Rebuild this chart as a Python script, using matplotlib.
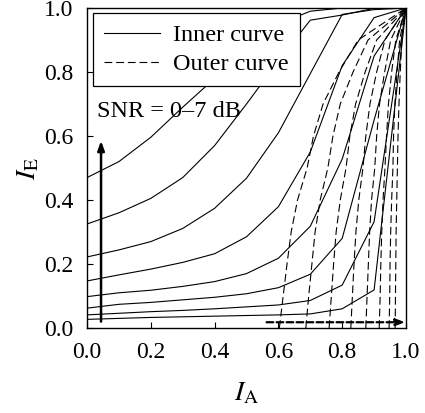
import matplotlib
matplotlib.use("Agg")
import matplotlib.pyplot as plt

plt.rcParams['font.family'] = ['Liberation Serif', 'DejaVu Serif']
plt.rcParams['mathtext.fontset'] = 'stix'

# Inner curves (SNR = 0..7 dB), I_E vs I_A sampled at I_A = 0, 0.1, ..., 1.0
ia_grid = [0.0, 0.1, 0.2, 0.3, 0.4, 0.5, 0.6, 0.7, 0.8, 0.9, 1.0]
inner_7 = [0.470, 0.520, 0.596, 0.690, 0.780, 0.870, 0.950, 0.990, 1.000, 1.000, 1.000]
inner_6 = [0.325, 0.360, 0.405, 0.470, 0.570, 0.700, 0.835, 0.962, 0.978, 0.999, 1.000]
inner_5 = [0.222, 0.244, 0.270, 0.311, 0.374, 0.468, 0.610, 0.795, 0.980, 0.995, 1.000]
inner_4 = [0.147, 0.166, 0.184, 0.205, 0.232, 0.285, 0.379, 0.550, 0.820, 0.970, 1.000]
inner_3 = [0.098, 0.110, 0.118, 0.130, 0.145, 0.170, 0.218, 0.318, 0.528, 0.850, 1.000]
inner_2 = [0.062, 0.074, 0.080, 0.088, 0.096, 0.107, 0.126, 0.168, 0.280, 0.650, 1.000]
inner_1 = [0.041, 0.046, 0.051, 0.055, 0.060, 0.066, 0.072, 0.086, 0.134, 0.332, 1.000]
inner_0 = [0.027, 0.030, 0.033, 0.035, 0.037, 0.039, 0.041, 0.044, 0.060, 0.119, 1.000]
inner_curves = [inner_7, inner_6, inner_5, inner_4, inner_3, inner_2, inner_1, inner_0]

# Outer curves: I_A (x) at I_E = 0, 0.1, ..., 1.0
ie_grid = [0.0, 0.1, 0.2, 0.3, 0.4, 0.5, 0.6, 0.7, 0.8, 0.9, 1.0]
outer_0 = [0.603, 0.615, 0.627, 0.640, 0.660, 0.690, 0.710, 0.740, 0.790, 0.850, 1.000]
outer_1 = [0.686, 0.695, 0.705, 0.715, 0.731, 0.755, 0.771, 0.794, 0.834, 0.881, 1.000]
outer_2 = [0.759, 0.766, 0.773, 0.781, 0.794, 0.812, 0.824, 0.842, 0.872, 0.908, 1.000]
outer_3 = [0.827, 0.832, 0.837, 0.843, 0.852, 0.865, 0.874, 0.887, 0.908, 0.934, 1.000]
outer_4 = [0.874, 0.878, 0.882, 0.886, 0.892, 0.902, 0.908, 0.917, 0.933, 0.952, 1.000]
outer_5 = [0.916, 0.919, 0.921, 0.924, 0.928, 0.934, 0.939, 0.945, 0.955, 0.968, 1.000]
outer_6 = [0.947, 0.949, 0.950, 0.952, 0.955, 0.959, 0.961, 0.965, 0.972, 0.980, 1.000]
outer_7 = [0.966, 0.967, 0.968, 0.969, 0.971, 0.973, 0.975, 0.978, 0.982, 0.987, 1.000]
outer_curves = [outer_0, outer_1, outer_2, outer_3, outer_4, outer_5, outer_6, outer_7]

ticks = [0.0, 0.2, 0.4, 0.6, 0.8, 1.0]
tick_labels = ['0.0', '0.2', '0.4', '0.6', '0.8', '1.0']

fig = plt.figure(figsize=(4.25, 4.13), dpi=100)
ax = fig.add_axes([87/425, (413-328)/413, 319/425, 320/413])

dash = (0, (7, 3.5))
for i, yv in enumerate(inner_curves):
    ax.plot(ia_grid, yv, color='black', lw=0.8, label='Inner curve' if i == 0 else None)
for i, xv in enumerate(outer_curves):
    ax.plot(xv, ie_grid, color='black', lw=0.8, linestyle=dash,
            label='Outer curve' if i == 0 else None)

ax.set_xlim(0, 1)
ax.set_ylim(0, 1)
ax.set_xticks(ticks)
ax.set_xticklabels(tick_labels)
ax.set_yticks(ticks)
ax.set_yticklabels(tick_labels)
ax.tick_params(direction='in', length=4, width=0.8, labelsize=17, top=False, right=False)
ax.tick_params(axis='x', pad=10)
ax.tick_params(axis='y', pad=10)
for s in ax.spines.values():
    s.set_linewidth(1.0)

ax.set_xlabel(r'$I_{\mathrm{A}}$', fontsize=20, labelpad=13)
ax.set_ylabel(r'$I_{\mathrm{E}}$', fontsize=20, labelpad=2)

leg = ax.legend(loc='upper left', bbox_to_anchor=(0.019, 0.984), borderaxespad=0,
                fontsize=17.5, frameon=True, fancybox=False, edgecolor='black',
                framealpha=1, handlelength=2.3, handletextpad=0.55, labelspacing=0.3,
                borderpad=0.45)
leg.get_frame().set_linewidth(0.9)

ax.text(0.03, 0.676, 'SNR = 0\u20137 dB', fontsize=17.5, va='center', ha='left')

# arrows
ax.annotate('', xy=(0.044, 0.585), xytext=(0.044, 0.02),
            arrowprops=dict(arrowstyle='-|>,head_length=0.55,head_width=0.2', lw=1.8,
                            color='black', shrinkA=0, shrinkB=0))
ax.annotate('', xy=(0.998, 0.018), xytext=(0.563, 0.018),
            arrowprops=dict(arrowstyle='-|>,head_length=0.55,head_width=0.2', lw=1.6,
                            linestyle=(0, (3, 1.5)), color='black', shrinkA=0, shrinkB=0))

fig.savefig('out.png', dpi=100)
